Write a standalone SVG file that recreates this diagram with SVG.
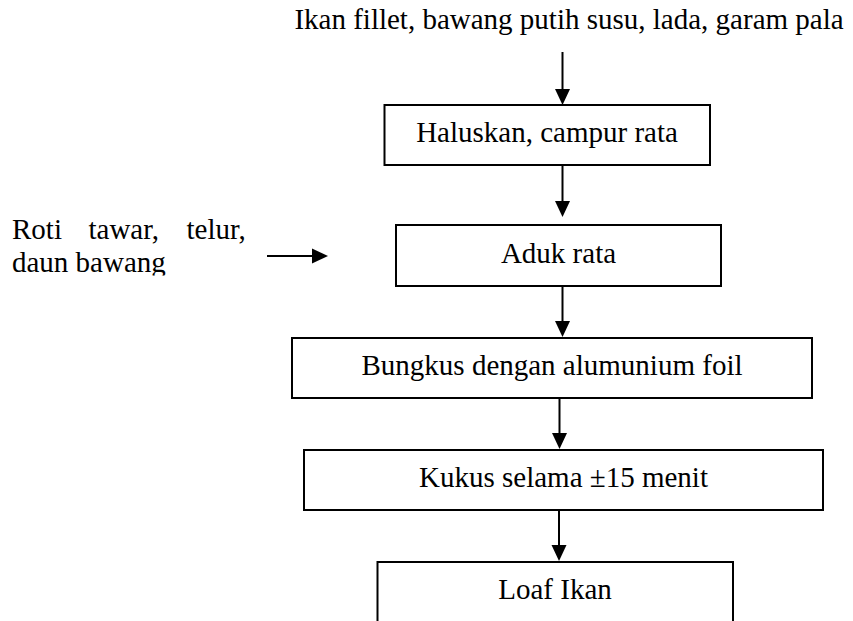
<svg xmlns="http://www.w3.org/2000/svg" width="853" height="621" viewBox="0 0 853 621">
<style>
.t{font-family:'Liberation Serif','Times New Roman','DejaVu Serif',serif;font-size:29px;fill:#000}
.c{text-anchor:middle}
.box{fill:#fff;stroke:#000;stroke-width:2}
.ln{stroke:#000;stroke-width:2;fill:none}
.hd{fill:#000;stroke:none}
</style>
<defs>
<clipPath id="clipL"><rect x="0" y="200" width="300" height="75.5"/></clipPath>
</defs>
<rect width="853" height="621" fill="#fff"/>
<g id="input-top" class="t">
<text class="c" x="569" y="29">Ikan fillet, bawang putih susu, lada, garam pala</text>
</g>
<g id="input-left" class="t" clip-path="url(#clipL)">
<text x="12" y="239">Roti</text>
<text x="88.5" y="239">tawar,</text>
<text x="186.5" y="239">telur,</text>
<text x="12" y="272">daun bawang</text>
</g>
<g id="node-haluskan">
<rect class="box" x="384.5" y="105" width="325.5" height="60"/>
<text class="t c" x="547" y="142">Haluskan, campur rata</text>
</g>
<g id="node-aduk">
<rect class="box" x="396" y="225" width="325" height="61"/>
<text class="t c" x="558.5" y="263">Aduk rata</text>
</g>
<g id="node-bungkus">
<rect class="box" x="292" y="338" width="520" height="60"/>
<text class="t c" x="552" y="375">Bungkus dengan alumunium foil</text>
</g>
<g id="node-kukus">
<rect class="box" x="304" y="450" width="519" height="60"/>
<text class="t c" x="563.5" y="487">Kukus selama ±15 menit</text>
</g>
<g id="node-loaf">
<rect class="box" x="377.5" y="562" width="355.5" height="80"/>
<text class="t c" x="555" y="599">Loaf Ikan</text>
</g>
<g id="connectors">
<line class="ln" x1="562.5" y1="52" x2="562.5" y2="92"/>
<polygon class="hd" points="555,89 570,89 562.5,105"/>
<line class="ln" x1="562.5" y1="165" x2="562.5" y2="204"/>
<polygon class="hd" points="555,201 570,201 562.5,217"/>
<line class="ln" x1="562.5" y1="286" x2="562.5" y2="324"/>
<polygon class="hd" points="555,321 570,321 562.5,337"/>
<line class="ln" x1="559.5" y1="398" x2="559.5" y2="436"/>
<polygon class="hd" points="552,433 567,433 559.5,449"/>
<line class="ln" x1="559" y1="510" x2="559" y2="548"/>
<polygon class="hd" points="551.5,545 566.5,545 559,561"/>
<line class="ln" x1="267" y1="256" x2="315" y2="256"/>
<polygon class="hd" points="312,248.5 312,263.5 328,256"/>
</g>
</svg>
